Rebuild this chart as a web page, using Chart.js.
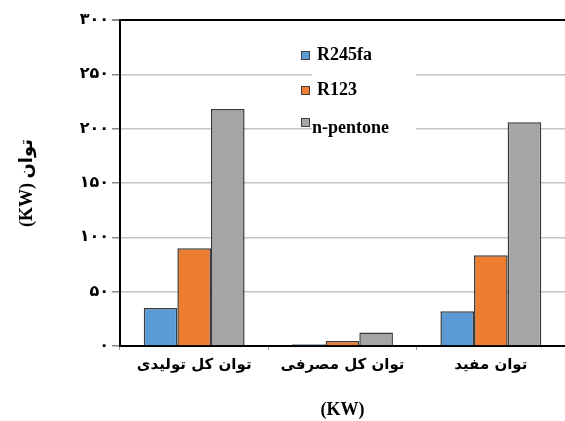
<!DOCTYPE html>
<html>
<head>
<meta charset="utf-8">
<script src="https://cdn.jsdelivr.net/npm/chart.js@4"></script>
<style>
  html, body { margin: 0; padding: 0; background: #fff; overflow: hidden; }
  #wrap { width: 565px; height: 421px; }
</style>
</head>
<body>
<div id="wrap"><canvas id="chart" width="565" height="421"></canvas></div>
<script>
// Data
const categories = ['توان کل تولیدی', 'توان کل مصرفی', 'توان مفید'];
const seriesNames = ['R245fa', 'R123', 'n-pentone'];
const r245faValues = [35, 1.5, 32];
const r123Values = [90, 4.5, 83.5];
const pentoneValues = [218, 12.5, 206];
const yTicks = [0, 50, 100, 150, 200, 250, 300];

const fillColors = ['#5B9BD5', '#ED7D31', '#A5A5A5'];
const persianFont = "'DejaVu Sans', sans-serif";
const serifFont = "'Liberation Serif', 'DejaVu Sans', serif";

// Turn 250 into ۲۵۰
function toPersianDigits(n) {
    return String(n).replace(/[0-9]/g, d => '۰۱۲۳۴۵۶۷۸۹'[d]);
}

// Legend drawn inside the plot, on a white patch over the gridlines
const insideLegend = {
    id: 'insideLegend',
    afterDatasetsDraw(chart) {
        const ctx = chart.ctx;
        const boxTops = [51, 86, 118];
        const baselines = [59.5, 95, 133];
        ctx.save();
        ctx.fillStyle = '#fff';
        ctx.fillRect(312, 40, 104, 100);
        chart.data.datasets.forEach((ds, i) => {
            ctx.fillStyle = ds.backgroundColor;
            ctx.fillRect(301, boxTops[i], 9, 9);
            ctx.strokeStyle = '#404040';
            ctx.lineWidth = 1;
            ctx.strokeRect(301.5, boxTops[i] + 0.5, 8, 8);
            ctx.fillStyle = '#000';
            ctx.font = 'bold 18px ' + serifFont;
            ctx.textBaseline = 'alphabetic';
            ctx.textAlign = 'left';
            ctx.fillText(ds.label, i === 2 ? 312 : 317, baselines[i]);
        });
        ctx.restore();
    }
};

const seriesValues = [r245faValues, r123Values, pentoneValues];

new Chart(document.getElementById('chart'), {
    type: 'bar',
    data: {
        labels: categories,
        datasets: seriesNames.map((name, i) => ({
            label: name,
            data: seriesValues[i],
            backgroundColor: fillColors[i],
            borderColor: '#3a3a3a',
            borderWidth: 1.5,
            categoryPercentage: 0.68,
            barPercentage: 1.0
        }))
    },
    options: {
        responsive: false,
        animation: false,
        layout: { padding: { top: 20, right: 0, left: 0, bottom: 0 } },
        plugins: {
            legend: { display: false },
            tooltip: { enabled: false }
        },
        scales: {
            x: {
                afterFit: (scale) => { scale.height = 75; },
                grid: {
                    offset: true,
                    drawOnChartArea: false,
                    tickLength: 4,
                    color: '#999'
                },
                border: { color: '#000', width: 2 },
                ticks: {
                    color: '#000',
                    padding: 6,
                    font: { family: persianFont, size: 15, weight: 'bold' }
                },
                title: {
                    display: true,
                    text: '(KW)',
                    color: '#000',
                    padding: { top: 0, bottom: 0 },
                    font: { family: serifFont, size: 18, weight: 'bold' }
                }
            },
            y: {
                min: yTicks[0],
                max: yTicks[yTicks.length - 1],
                afterFit: (scale) => { scale.width = 120; },
                afterBuildTicks: (scale) => { scale.ticks = yTicks.map(v => ({ value: v })); },
                grid: {
                    color: (c) => c.tick.value === 300 ? '#000' : (c.tick.value === 0 ? 'rgba(0,0,0,0)' : '#c4c4c4'),
                    lineWidth: (c) => c.tick.value === 300 ? 2 : 1.5,
                    tickColor: '#888',
                    tickLength: 8
                },
                border: { color: '#000', width: 2 },
                ticks: {
                    color: '#000',
                    padding: 3,
                    font: { family: persianFont, size: 16, weight: 'bold' },
                    callback: (v) => toPersianDigits(v)
                },
                title: {
                    display: true,
                    text: '(KW) توان',
                    color: '#000',
                    padding: { top: 17, bottom: 0 },
                    font: { family: serifFont, size: 18, weight: 'bold' }
                }
            }
        }
    },
    plugins: [insideLegend]
});
</script>
</body>
</html>
